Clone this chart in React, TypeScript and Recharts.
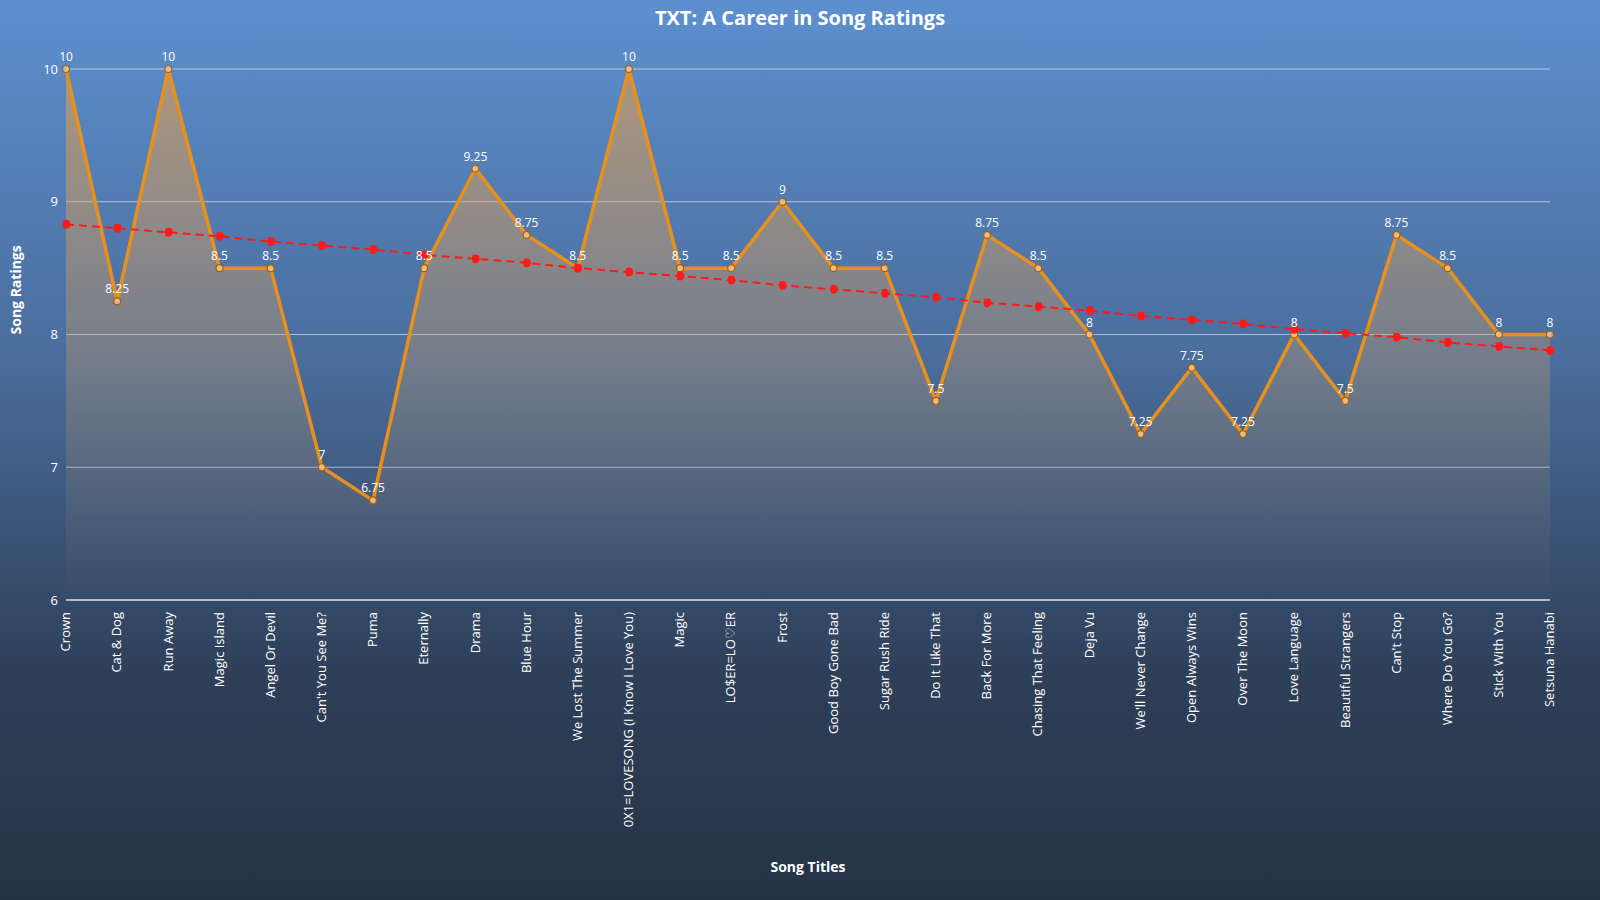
import { useEffect } from "react";
import { ComposedChart, Area, Line, XAxis, YAxis, CartesianGrid, LabelList, Label } from "recharts";

const songs = ["Crown", "Cat & Dog", "Run Away", "Magic Island", "Angel Or Devil", "Can't You See Me?", "Puma", "Eternally", "Drama", "Blue Hour", "We Lost The Summer", "0X1=LOVESONG (I Know I Love You)", "Magic", "LO$ER=LO♡ER", "Frost", "Good Boy Gone Bad", "Sugar Rush Ride", "Do It Like That", "Back For More", "Chasing That Feeling", "Deja Vu", "We'll Never Change", "Open Always Wins", "Over The Moon", "Love Language", "Beautiful Strangers", "Can't Stop", "Where Do You Go?", "Stick With You", "Setsuna Hanabi"];
const ratings = [10, 8.25, 10, 8.5, 8.5, 7, 6.75, 8.5, 9.25, 8.75, 8.5, 10, 8.5, 8.5, 9, 8.5, 8.5, 7.5, 8.75, 8.5, 8, 7.25, 7.75, 7.25, 8, 7.5, 8.75, 8.5, 8, 8];
const trend = [8.83, 8.8, 8.77, 8.74, 8.7, 8.67, 8.64, 8.6, 8.57, 8.54, 8.5, 8.47, 8.44, 8.41, 8.37, 8.34, 8.31, 8.28, 8.24, 8.21, 8.18, 8.14, 8.11, 8.08, 8.04, 8.01, 7.98, 7.94, 7.91, 7.88];
const yTicks = [6, 7, 8, 9, 10];

const data = songs.map((s, i) => ({ song: s, rating: ratings[i], trend: trend[i] }));
const font = "'Open Sans', 'Noto Sans', sans-serif";

export default function App() {
  useEffect(() => {
    document.body.style.margin = "0";
  }, []);
  return (
    <div style={{ width: 1600, height: 900, position: "relative", fontFamily: font, background: "linear-gradient(#5d8fcf 0%, #4a6d9c 40%, #2e3f58 75%, #263347 100%)" }}>
      <div style={{ position: "absolute", top: 4, width: "100%", textAlign: "center", color: "#fff", fontWeight: 700, fontSize: 20 }}>
        TXT: A Career in Song Ratings
      </div>
      <ComposedChart width={1600} height={900} data={data} margin={{ top: 69, right: 50, bottom: 0, left: 6 }}>
        <defs>
          <linearGradient id="fillA" x1="0" y1="0" x2="0" y2="1">
            <stop offset="0%" stopColor="#f0a040" stopOpacity={0.95} />
            <stop offset="50%" stopColor="#d8a060" stopOpacity={0.55} />
            <stop offset="100%" stopColor="#c8a070" stopOpacity={0} />
          </linearGradient>
        </defs>
        <CartesianGrid vertical={false} stroke="rgba(255,255,255,0.55)" />
        <XAxis dataKey="song" interval={0} angle={-90} textAnchor="end" height={300} tickLine={false} axisLine={{ stroke: "#fff" }}
          tick={{ fill: "#fff", fontSize: 13, fontFamily: font }} dx={-5} dy={4}>
          <Label value="Song Titles" position="insideBottom" offset={28} fill="#fff" fontWeight={700} fontSize={14} />
        </XAxis>
        <YAxis domain={[6, 10]} ticks={yTicks} width={60} tickLine={false} axisLine={false} tick={{ fill: "#fff", fontSize: 13, fontFamily: font }}>
          <Label value="Song Ratings" angle={-90} position="insideLeft" offset={10} fill="#fff" fontWeight={700} fontSize={14} />
        </YAxis>
        <Area dataKey="rating" type="linear" stroke="#e8901c" strokeWidth={3.5} fill="url(#fillA)" baseValue={6} isAnimationActive={false}
          dot={{ r: 3.5, fill: "#f8dcae", stroke: "#a85e0c", strokeWidth: 1.2 }}>
          <LabelList dataKey="rating" position="top" fill="#fff" fontSize={12} offset={8} />
        </Area>
        <Line dataKey="trend" type="linear" stroke="#ff1a1a" strokeWidth={2} strokeDasharray="8 5" isAnimationActive={false}
          dot={{ r: 3.5, fill: "#ff1a1a", stroke: "#ff1a1a" }} />
      </ComposedChart>
    </div>
  );
}
